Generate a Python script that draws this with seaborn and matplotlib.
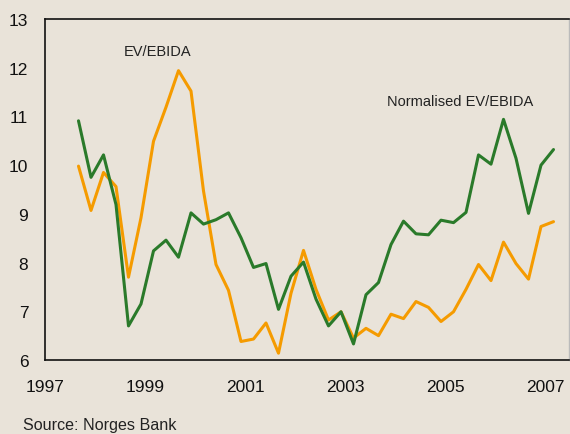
import numpy as np
import pandas as pd
import matplotlib
matplotlib.use("Agg")
import matplotlib.pyplot as plt
import seaborn as sns

# Quarterly observations, Q3 1997 - Q1 2007
first_quarter = 1997.67
n_quarters = 39

ev_ebida = [9.98, 9.07, 9.85, 9.56, 7.70, 8.92, 10.49, 11.19, 11.94, 11.52,
            9.47, 7.96, 7.43, 6.38, 6.43, 6.76, 6.14, 7.37, 8.25, 7.45,
            6.82, 6.99, 6.45, 6.65, 6.50, 6.94, 6.85, 7.20, 7.08, 6.79,
            6.99, 7.45, 7.96, 7.63, 8.42, 7.98, 7.66, 8.74, 8.84]
normalised = [10.91, 9.75, 10.21, 9.19, 6.70, 7.15, 8.24, 8.46, 8.11, 9.02,
              8.79, 8.88, 9.02, 8.51, 7.90, 7.98, 7.04, 7.72, 8.01, 7.25,
              6.70, 6.99, 6.33, 7.34, 7.59, 8.37, 8.85, 8.59, 8.57, 8.87,
              8.82, 9.03, 10.21, 10.02, 10.94, 10.14, 9.01, 10.00, 10.32]

x_ticks = [1997, 1999, 2001, 2003, 2005, 2007]
y_ticks = [6, 7, 8, 9, 10, 11, 12, 13]

dates = first_quarter + 0.25 * np.arange(n_quarters)
df = pd.DataFrame({"date": dates, "ev": ev_ebida, "norm": normalised})

bg = "#e9e3d9"
sns.set_theme(style="white")
plt.rcParams["font.family"] = ["Liberation Sans", "DejaVu Sans"]

fig = plt.figure(figsize=(5.7, 4.35), dpi=100, facecolor=bg)
ax = fig.add_axes([45 / 570, 1 - 361 / 435, 524 / 570, 341 / 435])
ax.set_facecolor(bg)

sns.lineplot(data=df, x="date", y="ev", color="#f59b00", lw=2.2, ax=ax)
sns.lineplot(data=df, x="date", y="norm", color="#2a7a2a", lw=2.2, ax=ax)

ax.set_xlim(1997, 2007.48)
ax.set_ylim(6, 13)
ax.set_xticks(x_ticks)
ax.set_yticks(y_ticks)
ax.set_xlabel("")
ax.set_ylabel("")
ax.tick_params(direction="in", length=7, width=1, color="#222222",
               labelsize=12.5, labelcolor="#111111")
ax.tick_params(axis="y", pad=12)
ax.tick_params(axis="x", pad=14)

for side in ["left", "top", "bottom"]:
    ax.spines[side].set_color("#111111")
    ax.spines[side].set_linewidth(1.2)
ax.spines["right"].set_color("#bbbbbb")
ax.spines["right"].set_linewidth(1)

ax.text(1999.26, 12.34, "EV/EBIDA", ha="center", va="center",
        fontsize=10.5, color="#222222")
ax.text(2005.3, 11.31, "Normalised EV/EBIDA", ha="center", va="center",
        fontsize=10.5, color="#222222")

fig.text(23 / 570, 1 - 426 / 435, "Source: Norges Bank", ha="left",
         va="center", fontsize=11.6, color="#222222")

fig.savefig("out.png", dpi=100, facecolor=bg)
